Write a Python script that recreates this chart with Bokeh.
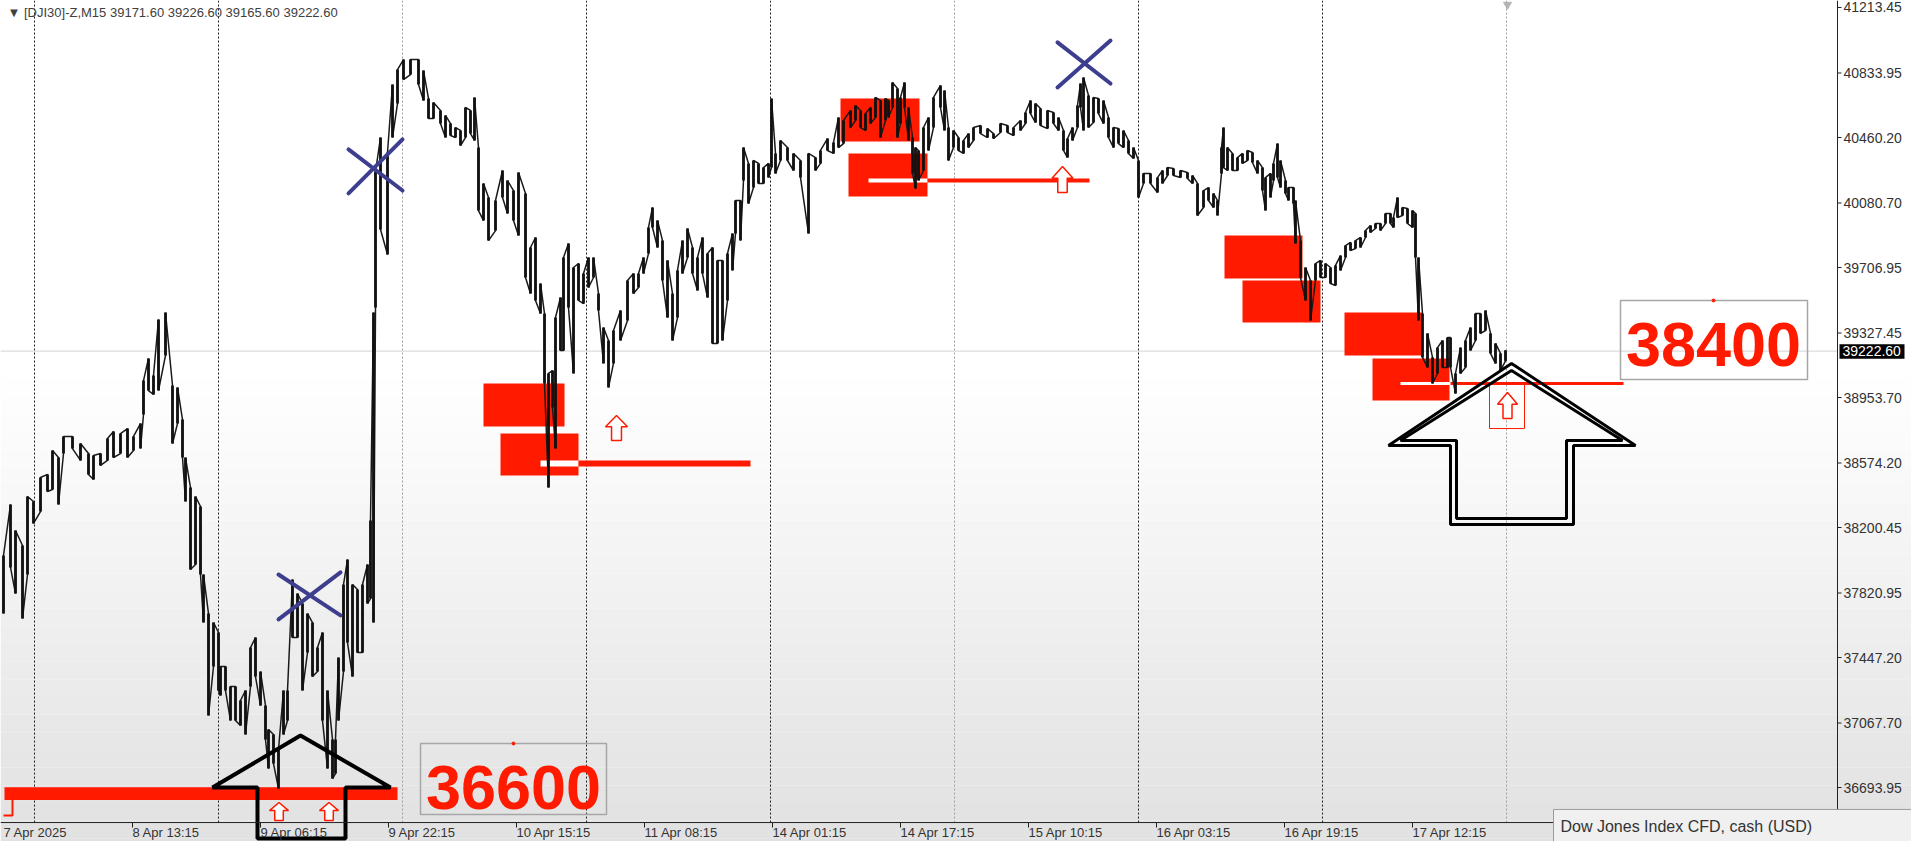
from bokeh.plotting import figure
from bokeh.models import Range1d, BoxAnnotation
from bokeh.core.properties import value
from bokeh.embed import file_html
from bokeh.resources import INLINE

FONT = "Liberation Sans"
RED = "#ff1a00"

# ---------------- data ----------------
# x = index of 15-minute bar, bar 0 = 8 Apr 2025 01:00 (server time)
bar = [-15.5,-12,-9.5,-6,-3.5,-0.5,3,6.5,9,12,14.5,19,23,27,29.5,33,36.5,39.5,43,46.5,
       49.5,53,54.5,57,59.5,62,65.5,69,71.5,74,75.5,78,80.5,83,84.5,87,89.5,92,93,95.5,
       98,100.5,103,105.5,108,110.5,113,115.5,117,119.5,122,124.5,126.5,129,131.5,134,136.5,139,141.5,144,
       146.5,149,150.5,152,154.5,156.5,159,161.5,164,166.5,168,169.5,170.5,173,176.5,179,181.5,184.5,188,192,
       194.5,197,199.5,203,205.5,208,210.5,213,215.5,218,220,222,224.5,227,230.5,234,236.5,239.5,242,245.5,
       248,250.5,253,255,257,259,260.5,263,264.5,267,269.5,272,274.5,277,279.5,282,284.5,287,289.5,293,
       296.5,299.5,302,304.5,307,309,311.5,314,316.5,319,321.5,324,326.5,329,331.5,334,336.5,339,341.5,344,
       346.5,349,350.5,353,354.5,357,359.5,362,364.5,367,368.5,370.5,373,376.5,379.5,383,
       387,390.5,393,396.5,399.5,402,404.5,408,410.5,413,415.5,418,420.5,423,425.5,427,429,431.5,433,435,
       437,439,440.5,442,444.5,447,449.5,453,455,457,459.5,462,464.5,467,469.5,473,476.5,479.5,483,486.5,
       489.5,493,495.5,498,500.5,503,506.5,509.5,512,514.5,516.5,519,521.5,523,524.5,527,529.5,532,534.5,537,
       539.5,542,544.5,547,549.5,552,554.5,558,561.5,564,566.5,569.5,573,576.5,579,581.5,
       584.5,587,589.5,591.5,593.5,594.5,596.5,599,601.5,604,606.5,609,611.5,614,615.5,618,619.5,621.5,623,625.5,
       627,629.5,630.5,633,635.5,638,640.5,643,645.5,648,650.5,653,655.5,658,660.5,663,665.5,668,670.5,673,
       675.5,678,679.5,681.5,684,686.5,689,690.5,692,694,696.5,699,701.5,704,706.5,708,710.5,713,715.5,718,
       720.5,723,725.5,728,730.5,733,735.5]

high = [38038,38334,38183,38096,38380,38351,38490,38508,38647,38606,38728,38728,38687,38629,38618,38629,38716,38757,38745,38774,
        38728,38803,39052,39180,39081,39406,39446,39023,39012,38826,38606,38432,38380,38322,37928,37702,37650,37592,37395,37395,
        37279,37279,37198,37256,37505,37563,37366,37169,37030,37001,36914,37256,37256,37899,37818,37760,37702,37650,37505,37592,
        37256,36972,36972,37447,37870,38015,37870,37841,37870,37986,38241,39446,40263,40460,40373,40767,40854,40912,40912,40912,
        40848,40686,40663,40617,40588,40541,40518,40501,40634,40617,40692,40402,40194,40113,40095,40269,40211,40153,40257,40136,
        39823,39881,39614,39440,39093,39110,39417,39533,39765,39846,39707,39730,39672,39765,39765,39556,39359,39284,39342,39458,
        39632,39672,39672,39765,39939,40055,39979,39863,39748,39556,39690,39863,39933,39823,39765,39881,39788,39823,39748,39748,
        39788,39904,40095,40095,40402,40310,40327,40310,40286,40310,40686,40368,40443,40402,40368,40327,
        40368,40344,40385,40454,40431,40576,40559,40617,40646,40617,40599,40634,40692,40675,40686,40675,40779,40744,40692,40779,
        40634,40460,40402,40385,40518,40576,40692,40762,40733,40518,40501,40460,40443,40483,40518,40530,40512,40483,40541,40530,
        40518,40559,40605,40675,40657,40628,40617,40605,40576,40501,40454,40518,40646,40773,40808,40704,40692,40686,40675,40576,
        40518,40512,40501,40443,40402,40327,40252,40252,40228,40269,40286,40281,40269,40257,40240,40194,
        40153,40170,40136,40095,40402,40518,40402,40368,40344,40368,40385,40373,40327,40286,40228,40252,40310,40425,40327,40211,
        40170,40170,40095,39863,39707,39632,39730,39748,39730,39707,39719,39776,39834,39852,39863,39881,39921,39950,39962,39962,
        40020,40020,39997,40113,40055,40049,40037,40020,39765,39440,39325,39186,39243,39284,39301,39301,39093,39243,39284,39359,
        39440,39440,39458,39325,39267,39209,39227]

low = [37702,37969,37818,37673,37928,38224,38293,38409,38421,38334,38629,38658,38589,38508,38479,38560,38589,38606,38629,38606,
       38647,38658,38855,38994,38971,38994,39197,38687,38803,38606,38351,37957,37986,37928,37650,37111,37395,37256,37227,37256,
       37082,37082,37053,37001,37279,37337,37169,36972,36804,36833,36688,37001,37082,37563,37563,37256,37476,37337,37366,37082,
       36804,36746,36775,37082,37366,37534,37337,37476,37476,37760,37789,37650,39475,39927,39782,40460,40657,40796,40825,40767,
       40675,40570,40570,40541,40460,40472,40460,40414,40460,40483,40443,40037,39979,39863,39921,40113,40020,39979,39892,39649,
       39556,39516,39440,39035,38432,38896,38658,39226,39226,39475,39093,39516,39498,39591,39649,39458,39151,39012,39151,39284,
       39400,39556,39591,39672,39788,39939,39823,39632,39417,39284,39417,39672,39765,39672,39574,39672,39533,39267,39267,39284,
       39516,39690,39904,39863,40211,40078,40170,40194,40194,40228,40286,40252,40327,40327,40269,40228,
       39904,40269,40310,40385,40368,40402,40425,40518,40559,40518,40501,40541,40576,40460,40559,40576,40634,40460,40541,40634,
       40443,40252,40165,40211,40269,40385,40518,40634,40501,40327,40402,40385,40368,40402,40443,40483,40460,40454,40489,40489,
       40472,40501,40541,40599,40547,40530,40512,40541,40501,40385,40344,40443,40518,40634,40501,40518,40547,40599,40541,40460,
       40402,40425,40402,40368,40339,40113,40194,40194,40142,40194,40240,40240,40228,40223,40194,40008,
       40055,40095,40055,40008,40252,40286,40269,40269,40269,40310,40327,40315,40252,40153,40037,40113,40211,40228,40170,40136,
       40095,40078,39846,39649,39516,39400,39632,39649,39649,39614,39603,39690,39765,39805,39817,39823,39881,39910,39933,39921,
       39962,39962,39939,39997,40008,39962,39939,39765,39400,39186,39128,39035,39093,39128,39128,39128,38977,39093,39128,39226,
       39284,39325,39342,39209,39151,39110,39166]

# session separators (bar index of each day's first bar, 01:00)
sep_bars = [0, 92, 184, 276, 368, 460, 552, 644, 736]
sep_colors = ["#1e1e1e", "#1e1e1e", "#a0a0a0", "#1e1e1e", "#1e1e1e", "#a0a0a0", "#1e1e1e", "#1e1e1e", "#a0a0a0"]

xtick_bars = [-15.5, 49, 113, 177, 241, 305, 369, 433, 497, 561, 625, 689]
xtick_labels = ["7 Apr 2025", "8 Apr 13:15", "9 Apr 06:15", "9 Apr 22:15", "10 Apr 15:15", "11 Apr 08:15",
                "14 Apr 01:15", "14 Apr 17:15", "15 Apr 10:15", "16 Apr 03:15", "16 Apr 19:15", "17 Apr 12:15"]
ytick_vals = [41213.45, 40833.95, 40460.20, 40080.70, 39706.95, 39327.45, 38953.70,
              38574.20, 38200.45, 37820.95, 37447.20, 37067.70, 36693.95]
last_price = 39222.60
header = "\u25bc [DJI30]-Z,M15  39171.60 39226.60 39165.60 39222.60"
symbol_desc = "Dow Jones Index CFD, cash (USD)"

# supply / demand zones
zone_left = [224.5, 233, 403, 407, 595, 604, 655, 669]
zone_right = [265, 272, 442.5, 446.5, 634, 643, 694, 707.5]
zone_top = [39035, 38745, 40686, 40368, 39892, 39632, 39446, 39180]
zone_bottom = [38786, 38502, 40437, 40118, 39643, 39388, 39197, 38936]

# level lines: white part inside zone, red extension to the right
level_price = [38571, 40211, 39035]
level_start = [253, 417, 683]
level_mid = [272, 446.5, 708]
level_end = [358, 527.5, 794.5]
level_width = [6, 4, 3]

# support band at the bottom
support_left, support_right = -15, 181.5
support_top, support_bottom = 36695, 36622

# small hollow up arrows
sarrow_x = [291, 514, 736.5, 122.25, 147.25]
sarrow_top = [38849, 40292, 38983, 36607, 36607]
sarrow_bottom = [38705, 40142, 38832, 36503, 36503]
sarrow_halfw = [5.5, 5.25, 5.0, 4.75, 4.75]

# targets
targets = ["36600", "38400"]
target_left = [193, 793]
target_right = [286, 886.5]
target_top = [36949, 39516]
target_bottom = [36538, 39058]
target_cx = [239.5, 839.5]
target_cy = [36695, 39262]

# hand-drawn crosses
cross_x0 = [157, 157, 122, 122, 511.5, 511.5]
cross_x1 = [184, 184, 153, 153, 538, 538]
cross_y0 = [40391, 40136, 37928, 37668, 41011, 40750]
cross_y1 = [40153, 40449, 37691, 37940, 40773, 41022]

# hand-drawn big arrows
big_left_x = [133, 178, 155.5, 155.5, 111.5, 111.5, 89]
big_left_y = [36995, 36694, 36694, 36399, 36399, 36694, 36694]
big_right_x = [738.5, 800.5, 769.5, 769.5, 708, 708, 677]
big_right_y = [39151, 38676, 38676, 38218, 38218, 38676, 38676]
big_right_in_x = [738.5, 794, 766, 766, 711, 711, 683]
big_right_in_y = [39110, 38705, 38705, 38253, 38253, 38705, 38705]

# ---------------- figure ----------------
# the frame covers the whole canvas; price and time scales are drawn inside it
X0, X1 = -17, 938.5          # bar index at canvas edges (2 px per bar)
Y0, Y1 = 36381.2, 41254.0    # price at canvas edges
AXIS_X = 901.5               # right edge of the chart area (price scale line)
AXIS_Y = 36491               # bottom edge of the chart area (time scale line)

p = figure(width=1911, height=841, x_range=Range1d(X0, X1), y_range=Range1d(Y0, Y1),
           output_backend="svg", toolbar_location=None,
           x_axis_location=None, y_axis_location=None,
           min_border=0, background_fill_color="white", border_fill_color="white",
           outline_line_color=None)
p.grid.visible = False

# background gradient (white top -> light grey bottom)
nb = 26
ptop, pbot = 39060, 36400
for k in range(nb):
    t = ptop - (ptop - pbot) * k / nb
    b = ptop - (ptop - pbot) * (k + 1) / nb
    g = int(round(255 - 30 * (k + 0.5) / nb))
    p.add_layout(BoxAnnotation(top=t, bottom=b, fill_color=(g, g, g), fill_alpha=1.0,
                               line_color=None, level="underlay"))
p.add_layout(BoxAnnotation(top=pbot, fill_color=(225, 225, 225), fill_alpha=1.0,
                           line_color=None, level="underlay"))

# session separators and current price line
p.segment(x0=sep_bars, y0=[AXIS_Y] * len(sep_bars), x1=sep_bars, y1=[Y1] * len(sep_bars),
          line_color=sep_colors, line_dash="2 2", line_width=1)
p.segment(x0=[X0], y0=[last_price], x1=[AXIS_X], y1=[last_price], line_color="#d2d2d2", line_width=1)

# support band + bracket
p.quad(left=[support_left], right=[support_right], top=[support_top], bottom=[support_bottom],
       fill_color=RED, line_color=None)
p.line([support_left + 4, support_left + 4, support_left - 0.5],
       [support_bottom, support_bottom - 90, support_bottom - 90], line_color=RED, line_width=2)

# zones
p.quad(left=zone_left, right=zone_right, top=zone_top, bottom=zone_bottom, fill_color=RED, line_color=None)

# level lines
for lp, ls, lm, le, lw in zip(level_price, level_start, level_mid, level_end, level_width):
    p.segment(x0=[ls], y0=[lp], x1=[lm], y1=[lp], line_color="white", line_width=lw)
    p.segment(x0=[lm], y0=[lp], x1=[le], y1=[lp], line_color=RED, line_width=lw)

# target boxes
p.quad(left=target_left, right=target_right, top=target_top, bottom=target_bottom,
       fill_color=None, line_color="#a6a6a6", line_width=1.5)
p.scatter(x=target_cx, y=target_top, size=3, color=RED)
p.text(x=target_cx, y=target_cy, text=targets, text_align="center", text_baseline="middle",
       text_color=RED, text_font=value(FONT), text_font_style="bold", text_font_size=value("63px"))

# price bars
zx, zy = [], []
for i, (b, h, l) in enumerate(zip(bar, high, low)):
    zx += [b, b]
    zy += ([l, h] if i % 2 == 0 else [h, l])
p.line(zx, zy, line_color="#1a1a1a", line_width=1.5)
p.segment(x0=bar, y0=low, x1=bar, y1=high, line_color="#111111", line_width=2.8)

# small hollow arrows
axs, ays = [], []
for xc, tp, bt, hw in zip(sarrow_x, sarrow_top, sarrow_bottom, sarrow_halfw):
    head = tp - (tp - bt) * 0.45
    sw = hw * 0.45
    axs.append([xc, xc + hw, xc + sw, xc + sw, xc - sw, xc - sw, xc - hw])
    ays.append([tp, head, head, bt, bt, head, head])
p.patches(axs, ays, fill_color="white", line_color=RED, line_width=1.5)
p.quad(left=[727.5], right=[745], top=[39035], bottom=[38774], fill_color=None, line_color=RED, line_width=1)

# crosses
p.segment(x0=cross_x0, y0=cross_y0, x1=cross_x1, y1=cross_y1, line_color="#3e3e8e",
          line_width=4, line_cap="round")

# big hand-drawn arrows
p.patch(big_left_x + big_left_x[:1], big_left_y + big_left_y[:1], fill_alpha=0, line_color="black", line_width=4)
p.patch(big_right_x + big_right_x[:1], big_right_y + big_right_y[:1], fill_alpha=0, line_color="black", line_width=3)
p.patch(big_right_in_x + big_right_in_x[:1], big_right_in_y + big_right_in_y[:1], fill_alpha=0,
        line_color="black", line_width=3)

# shift marker at top
p.scatter(x=[736.5], y=[41230], marker="inverted_triangle", size=8, color="#b4b4b4")

# header
p.text(x=[-13.5], y=[41184], text=[header], text_align="left", text_baseline="middle",
       text_font=value(FONT), text_font_size=value("13px"), text_color="#404040")

# ---------------- price scale (right) ----------------
p.segment(x0=[AXIS_X], y0=[AXIS_Y], x1=[AXIS_X], y1=[Y1], line_color="#222222", line_width=1)
p.segment(x0=[AXIS_X] * len(ytick_vals), y0=ytick_vals, x1=[AXIS_X + 2] * len(ytick_vals), y1=ytick_vals,
          line_color="#222222", line_width=1)
ylab = [f"{v:.2f}" for v in ytick_vals]
p.text(x=[AXIS_X + 3] * len(ytick_vals), y=ytick_vals, text=ylab, text_align="left",
       text_baseline="middle", text_font=value(FONT), text_font_size=value("14px"), text_color="#333333")

# current price box
p.quad(left=[AXIS_X + 1], right=[AXIS_X + 33.5], top=[last_price + 40], bottom=[last_price - 44],
       fill_color="black", line_color=None)
p.text(x=[AXIS_X + 2.5], y=[last_price - 2], text=[f"{last_price:.2f}"], text_align="left",
       text_baseline="middle", text_font=value(FONT), text_font_size=value("14px"), text_color="white")

# ---------------- time scale (bottom) ----------------
p.segment(x0=[X0], y0=[AXIS_Y], x1=[AXIS_X], y1=[AXIS_Y], line_color="#222222", line_width=1)
p.segment(x0=xtick_bars[1:], y0=[AXIS_Y] * (len(xtick_bars) - 1), x1=xtick_bars[1:],
          y1=[AXIS_Y - 29] * (len(xtick_bars) - 1), line_color="#222222", line_width=1)
p.text(x=xtick_bars, y=[AXIS_Y - 17] * len(xtick_bars), text=xtick_labels,
       text_align="left", text_baseline="top", text_font=value(FONT), text_font_size=value("13px"),
       text_color="#333333")

# symbol description box
p.quad(left=[759.5], right=[X1], top=[36567], bottom=[Y0], fill_color="#f0f0f0", line_color="#9a9a9a",
       line_width=1)
p.text(x=[763], y=[36468], text=[symbol_desc], text_align="left", text_baseline="middle",
       text_font=value(FONT), text_font_size=value("16px"), text_color="#333333")

open("out.html", "w").write(file_html(p, INLINE))
